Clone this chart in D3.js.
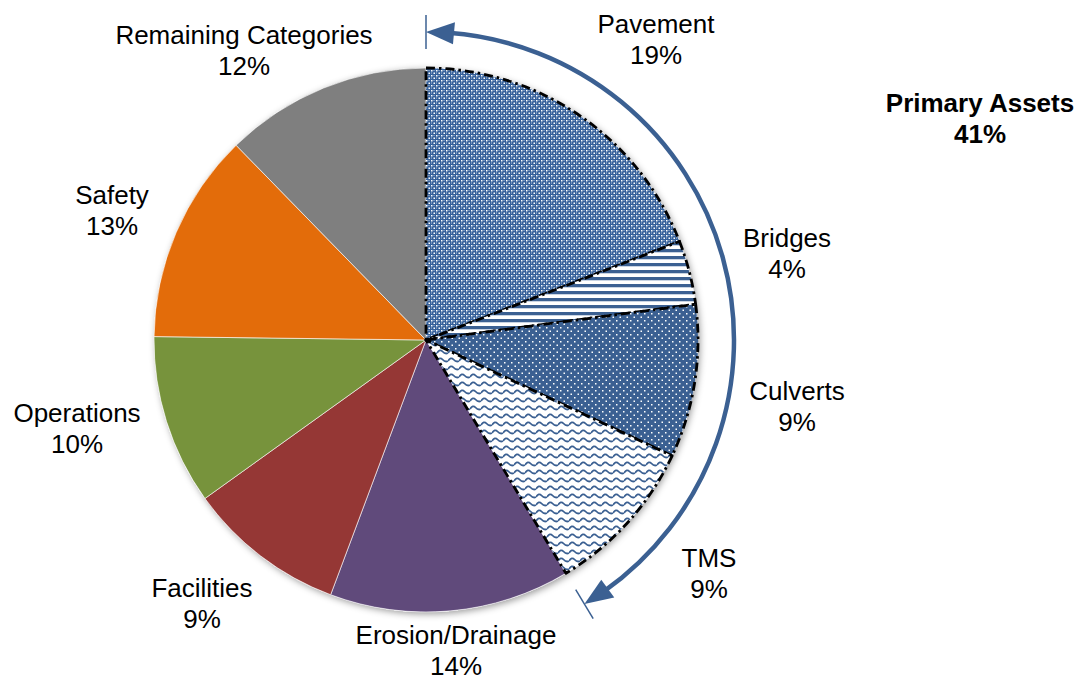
<!DOCTYPE html>
<html>
<head>
<meta charset="utf-8">
<script src="https://cdn.jsdelivr.net/npm/d3@7"></script>
<style>
  body { margin: 0; background: #fff; }
  svg { display: block; font-family: "Liberation Sans", Arial, sans-serif; }
</style>
</head>
<body>
<div id="chart"></div>
<script>
// categories, clockwise from 12 o'clock
var categories = ["Pavement", "Bridges", "Culverts", "TMS", "Erosion/Drainage",
  "Facilities", "Operations", "Safety", "Remaining Categories"];
// share of total (%)
var values = [19.1, 3.8, 9.1, 9.4, 14.3, 9.4, 10.1, 12.5, 12.3];
// which ones belong to the primary assets group
var primary = [true, true, true, true, false, false, false, false, false];
var groupLabel = "Primary Assets";

// layout / style (not data)
var width = 1080, height = 682;
var cx = 426, cy = 340, radius = 272, arrowR = 308;
var blue = "#3B6092";
var fills = ["url(#pat-pave)", "url(#pat-bridge)", "url(#pat-culv)", "url(#pat-tms)",
  "#604A7B", "#953735", "#77933C", "#E36C0A", "#7F7F7F"];
// label anchor points (center x, first baseline y)
var labelPos = [[656, 33], [787, 247], [797, 400], [709, 567], [456, 644],
  [202, 597], [77, 422], [112, 204], [244, 44]];
var lineGap = 31;

var svg = d3.select("#chart").append("svg")
  .attr("width", width).attr("height", height);

var defs = svg.append("defs");

// drop shadow under the pie
var f = defs.append("filter").attr("id", "shadow")
  .attr("x", "-10%").attr("y", "-10%").attr("width", "120%").attr("height", "120%");
f.append("feDropShadow").attr("dx", 2).attr("dy", 2).attr("stdDeviation", 3.5)
  .attr("flood-color", "#000").attr("flood-opacity", 0.4);

// Pavement: small diamond dot grid
var p1 = defs.append("pattern").attr("id", "pat-pave").attr("patternUnits", "userSpaceOnUse")
  .attr("width", 5).attr("height", 5);
p1.append("rect").attr("width", 5).attr("height", 5).attr("fill", "#35609a");
p1.append("rect").attr("x", 0).attr("y", 0).attr("width", 1.5).attr("height", 1.5).attr("fill", "#fff");
p1.append("rect").attr("x", 2.5).attr("y", 2.5).attr("width", 1.5).attr("height", 1.5).attr("fill", "#fff");
p1.append("rect").attr("x", 2.5).attr("y", 0).attr("width", 1).attr("height", 1).attr("fill", "#b3c4dc");
p1.append("rect").attr("x", 0).attr("y", 2.5).attr("width", 1).attr("height", 1).attr("fill", "#b3c4dc");

// Bridges: horizontal stripes
var p2 = defs.append("pattern").attr("id", "pat-bridge").attr("patternUnits", "userSpaceOnUse")
  .attr("width", 8).attr("height", 7);
p2.append("rect").attr("width", 8).attr("height", 7).attr("fill", "#fff");
p2.append("rect").attr("y", 0).attr("width", 8).attr("height", 3).attr("fill", blue);
p2.append("rect").attr("y", 3).attr("width", 8).attr("height", 1).attr("fill", "#c9d4e3");

// Culverts: blue with small white dots
var p3 = defs.append("pattern").attr("id", "pat-culv").attr("patternUnits", "userSpaceOnUse")
  .attr("width", 7).attr("height", 7);
p3.append("rect").attr("width", 7).attr("height", 7).attr("fill", blue);
p3.append("rect").attr("x", 1).attr("y", 1).attr("width", 1.5).attr("height", 1.5).attr("fill", "#fff");
p3.append("rect").attr("x", 4.5).attr("y", 4.5).attr("width", 1.5).attr("height", 1.5).attr("fill", "#fff");

// TMS: wave lines on white
var p4 = defs.append("pattern").attr("id", "pat-tms").attr("patternUnits", "userSpaceOnUse")
  .attr("width", 11).attr("height", 8);
p4.append("rect").attr("width", 11).attr("height", 8).attr("fill", "#fff");
p4.append("path").attr("d", "M0,5 Q2.75,0.5 5.5,3.5 T11,5")
  .attr("fill", "none").attr("stroke", blue).attr("stroke-width", 1.8);

var pie = d3.pie().sort(null).value(d => d);
var arcs = pie(values);
var arc = d3.arc().innerRadius(0).outerRadius(radius);

var g = svg.append("g").attr("transform", `translate(${cx},${cy})`);

// shadow layer
g.append("circle").attr("r", radius).attr("fill", "#fff").attr("filter", "url(#shadow)");

// other slices first, primary on top so the dashed outline shows
var order = d3.range(arcs.length).sort((a, b) => primary[a] - primary[b]);

g.selectAll("path.slice")
  .data(order.map(i => Object.assign({ idx: i }, arcs[i])))
  .enter().append("path")
  .attr("class", "slice")
  .attr("d", arc)
  .attr("fill", d => fills[d.idx])
  .attr("stroke", d => primary[d.idx] ? "#000" : "#fff")
  .attr("stroke-width", d => primary[d.idx] ? 2.8 : 0.6)
  .attr("stroke-dasharray", d => primary[d.idx] ? "9,4,2.5,4" : null)
  .attr("stroke-linejoin", "round");

// slice labels
var labels = svg.append("g").attr("font-size", "26px").attr("fill", "#000")
  .attr("text-anchor", "middle");
categories.forEach((c, i) => {
  var t = labels.append("text").attr("x", labelPos[i][0]).attr("y", labelPos[i][1]);
  t.append("tspan").attr("x", labelPos[i][0]).text(c);
  t.append("tspan").attr("x", labelPos[i][0]).attr("dy", lineGap)
    .text(Math.round(values[i]) + "%");
});

// primary assets bracket arrow
var primSum = d3.sum(values.filter((v, i) => primary[i]));
var a0 = 0, a1 = primSum / 100 * 2 * Math.PI; // clockwise from 12 o'clock
var headLen = 28, headW = 11;
var dA = headLen / arrowR;
var pt = (a, r) => [cx + r * Math.sin(a), cy - r * Math.cos(a)];

var arrow = svg.append("g");
var line = d3.path();
var s = pt(a0 + dA * 0.8, arrowR);
line.moveTo(s[0], s[1]);
line.arc(cx, cy, arrowR, a0 + dA * 0.8 - Math.PI / 2, a1 - dA * 0.8 - Math.PI / 2);
arrow.append("path").attr("d", line.toString())
  .attr("fill", "none").attr("stroke", blue).attr("stroke-width", 4.5);

function head(aTip, aBase) {
  var tip = pt(aTip, arrowR);
  var b1 = pt(aBase, arrowR - headW), b2 = pt(aBase, arrowR + headW);
  arrow.append("path").attr("d", `M${tip}L${b1}L${b2}Z`).attr("fill", blue);
  var t1 = pt(aTip, arrowR - 17), t2 = pt(aTip, arrowR + 17);
  arrow.append("line").attr("x1", t1[0]).attr("y1", t1[1]).attr("x2", t2[0]).attr("y2", t2[1])
    .attr("stroke", blue).attr("stroke-width", 1.5);
}
head(a0, a0 + dA);
head(a1, a1 - dA);

// group label
var gl = svg.append("text").attr("x", 980).attr("y", 112).attr("text-anchor", "middle")
  .attr("font-size", "26px").attr("font-weight", "bold");
gl.append("tspan").attr("x", 980).text(groupLabel);
gl.append("tspan").attr("x", 980).attr("dy", lineGap).text(Math.round(primSum) + "%");
</script>
</body>
</html>
